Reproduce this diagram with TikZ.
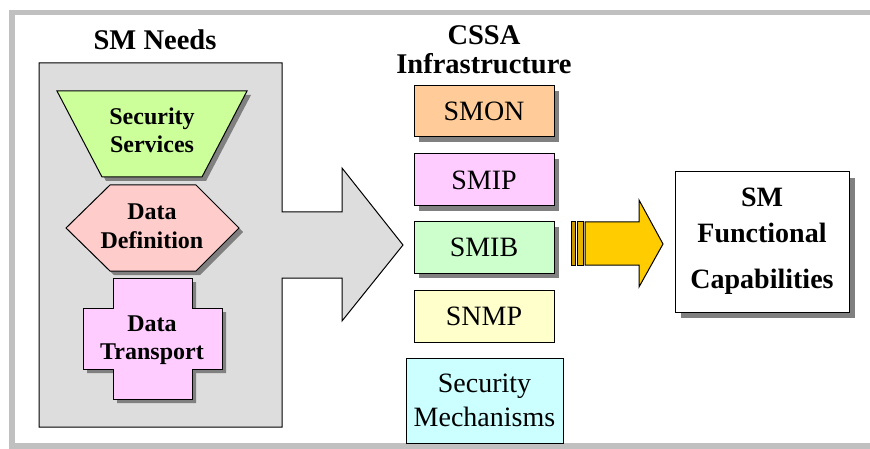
\documentclass[tikz,border=0pt]{standalone}
\usepackage{fontspec}
\setmainfont{Liberation Serif}
\usetikzlibrary{shadows}
\definecolor{framegray}{HTML}{C0C0C0}
\definecolor{panelgray}{HTML}{DDDDDD}
\definecolor{shadowgray}{HTML}{808080}
\definecolor{secgreen}{HTML}{CCFF99}
\definecolor{defpink}{HTML}{FFCCCC}
\definecolor{lilac}{HTML}{FFCCFF}
\definecolor{smonfill}{HTML}{FFCC99}
\definecolor{smibfill}{HTML}{CCFFCC}
\definecolor{snmpfill}{HTML}{FFFFCC}
\definecolor{mechfill}{HTML}{CCFFFF}
\definecolor{gold}{HTML}{FFCC00}
\definecolor{darkgold}{HTML}{CC9900}
\definecolor{midgold}{HTML}{E6B400}
\tikzset{
  outline/.style={draw=black, line width=1pt, line join=miter},
  shadowed/.style={drop shadow={shadow xshift=#1, shadow yshift=-#1, fill=shadowgray, opacity=1}},
  shadowed/.default=5pt,
  infobox/.style={outline, rectangle, inner sep=0pt,
    font=\fontsize{28}{34}\selectfont, align=center},
  title/.style={font=\bfseries\fontsize{28.5}{30}\selectfont, anchor=base, inner sep=0pt},
  shapetext/.style={font=\bfseries\fontsize{24}{29}\selectfont, anchor=base, inner sep=0pt},
  captext/.style={font=\bfseries\fontsize{28}{30}\selectfont, anchor=base, inner sep=0pt},
}
\begin{document}
\begin{tikzpicture}[x=1pt, y=-1pt]
\useasboundingbox (0,0) rectangle (870,449);
\fill[white] (0,0) rectangle (870,449);

% outer frame, open on the right
\draw[framegray, line width=5.5pt] (872,12.5) -- (12,12.5) -- (12,446) -- (872,446);

% SM Needs panel merged with its block arrow
\draw[outline, fill=panelgray] (39,63) -- (282,63) -- (282,212) -- (342,212)
  -- (342,168) -- (403,245) -- (342,321) -- (342,278) -- (282,278)
  -- (282,427) -- (39,427) -- cycle;
\node[title] (needs) at (155,50) {SM Needs};

% Security Services (trapezoid)
\draw[outline, fill=secgreen, shadowed=4pt]
  (57,91) -- (247,91) -- (202,177) -- (102,177) -- cycle;
\node[shapetext] (sec1) at (152,125) {Security};
\node[shapetext] (sec2) at (152,153) {Services};

% Data Definition (hexagon)
\draw[outline, fill=defpink, shadowed=4pt]
  (110,185) -- (196,185) -- (239,228) -- (196,271) -- (110,271) -- (66,228) -- cycle;
\node[shapetext] (def1) at (152,220) {Data};
\node[shapetext] (def2) at (152,248) {Definition};

% Data Transport (cross)
\draw[outline, fill=lilac, shadowed=4pt]
  (113,278) -- (192,278) -- (192,308) -- (222,308) -- (222,369) -- (192,369)
  -- (192,399) -- (113,399) -- (113,369) -- (83,369) -- (83,308) -- (113,308) -- cycle;
\node[shapetext] (tr1) at (152,331) {Data};
\node[shapetext] (tr2) at (152,359) {Transport};

% CSSA infrastructure column
\node[title] (cssa) at (484,45) {CSSA};
\node[title] (infra) at (484,74) {Infrastructure};
\node[infobox, fill=smonfill, shadowed, minimum width=140pt, minimum height=51pt]
  (smon) at (484,111.5) {SMON};
\node[infobox, fill=lilac, shadowed, minimum width=140pt, minimum height=52pt]
  (smip) at (484,180) {SMIP};
\node[infobox, fill=smibfill, shadowed, minimum width=140pt, minimum height=51pt]
  (smib) at (484,247.5) {SMIB};
\node[infobox, fill=snmpfill, minimum width=140pt, minimum height=52pt]
  (snmp) at (484,316) {SNMP};
\node[infobox, fill=mechfill, minimum width=157pt, minimum height=85pt]
  (mech) at (484.5,400.5) {Security\\Mechanisms};

% gold block arrow with its two trailing bars
\draw[outline, fill=darkgold] (571,222) rectangle (575,265);
\draw[outline, fill=midgold] (577,222) rectangle (583,265);
\draw[outline, fill=gold] (585,222) -- (639,222) -- (639,200) -- (663,244)
  -- (639,287) -- (639,265) -- (585,265) -- cycle;

% SM Functional Capabilities
\node[outline, rectangle, fill=white, shadowed=6pt, minimum width=174pt,
  minimum height=140pt] (cap) at (762,242) {};
\node[captext] (cap1) at (762,207) {SM};
\node[captext] (cap2) at (762,242) {Functional};
\node[captext] (cap3) at (762,288) {Capabilities};
\end{tikzpicture}
\end{document}
